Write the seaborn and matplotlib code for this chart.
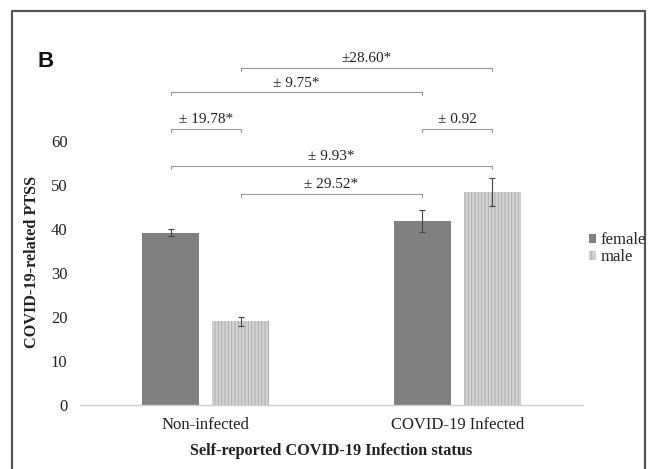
import numpy as np
import pandas as pd
import matplotlib
matplotlib.use('Agg')
import matplotlib.pyplot as plt
import seaborn as sns
from matplotlib.patches import Patch
from matplotlib.lines import Line2D

# data
status = ["Non-infected", "Non-infected", "COVID-19 Infected", "COVID-19 Infected"]
sex = ["female", "male", "female", "male"]
ptss = [39.2, 19.0, 41.9, 48.5]
ptss_err = [0.8, 1.0, 2.5, 3.2]

# pairwise comparison brackets: (bar a, bar b, height, label)
bracket_a = [1, 0, 0, 2, 0, 1]
bracket_b = [2, 3, 1, 3, 2, 3]
bracket_y = [48.0, 54.3, 62.7, 62.7, 71.1, 76.6]
bracket_txt = ["± 29.52*", "± 9.93*", "± 19.78*", "± 0.92", "± 9.75*", "±28.60*"]

df = pd.DataFrame({"status": status, "sex": sex, "ptss": ptss})

sns.set_theme(style="white")
plt.rcParams['font.family'] = ['Liberation Serif', 'DejaVu Serif']
plt.rcParams['hatch.linewidth'] = 0.6

fig = plt.figure(figsize=(6.54, 4.69), dpi=100)
ax = fig.add_axes([0.1223, 0.1365, 0.7691, 0.7505])

sns.barplot(data=df, x="status", y="ptss", hue="sex",
            palette={"female": "#808080", "male": "#d2d2d2"},
            width=0.556, gap=0.19, errorbar=None, ax=ax, legend=False)

# order patches by x position so index matches the data order above
bars = sorted(ax.patches, key=lambda p: p.get_x())
for p, s in zip(bars, sex):
    p.set_linewidth(0)
    if s == "male":
        p.set_hatch("|||||")
        p.set_edgecolor("#a9a9a9")

centers = [p.get_x() + p.get_width() / 2 for p in bars]
heights = [p.get_height() for p in bars]
ax.errorbar(centers, heights, yerr=ptss_err, fmt="none", ecolor="#444444",
            elinewidth=0.8, capsize=2, capthick=0.8)

tick = 0.7
for a, b, y, t in zip(bracket_a, bracket_b, bracket_y, bracket_txt):
    xa, xb = centers[a], centers[b]
    ax.plot([xa, xa, xb, xb], [y - tick, y, y, y - tick], color="#9a9a9a",
            lw=0.8, clip_on=False)
    ax.text((xa + xb) / 2, y + 0.6, t, ha="center", va="bottom", fontsize=11,
            color="#222222")

ax.set_ylim(0, 80)
ax.set_xlim(-0.5, 1.5)
ax.set_yticks(range(0, 61, 10))
ax.tick_params(axis="both", length=0, labelsize=12, colors="#222222")
ax.tick_params(axis="x", pad=9)
ax.tick_params(axis="y", pad=9)
for s in ["left", "top", "right"]:
    ax.spines[s].set_visible(False)
ax.spines["bottom"].set_color("#d0d0d0")
ax.spines["bottom"].set_linewidth(1.0)

ax.set_xlabel("Self-reported COVID-19 Infection status", fontsize=11.7,
              fontweight="bold", color="#222222", labelpad=7)
ax.set_ylabel("COVID-19-related PTSS", fontsize=11.7, fontweight="bold",
              color="#222222")
ax.yaxis.set_label_coords(-0.08, 0.406)

handles = [Patch(facecolor="#808080", edgecolor="#808080", lw=0, label="female"),
           Patch(facecolor="#d2d2d2", edgecolor="#a9a9a9", hatch="|||", lw=0, label="male")]
fig.legend(handles=handles, loc="upper left", bbox_to_anchor=(0.893, 0.515),
           frameon=False, fontsize=12, handlelength=0.4, handleheight=0.4,
           handletextpad=0.3, labelspacing=0.05, borderaxespad=0, borderpad=0.3)

fig.text(0.058, 0.857, "B", fontsize=16, fontweight="bold",
         family="Liberation Sans", color="#111111", va="baseline")

# outer frame (open at the bottom)
fx0, fx1, fy1 = 0.019, 0.986, 0.976
fig.add_artist(Line2D([fx0, fx0, fx1, fx1], [0.0, fy1, fy1, 0.0],
                      color="#555555", lw=1.6, transform=fig.transFigure))

fig.savefig("out.png", dpi=100)
